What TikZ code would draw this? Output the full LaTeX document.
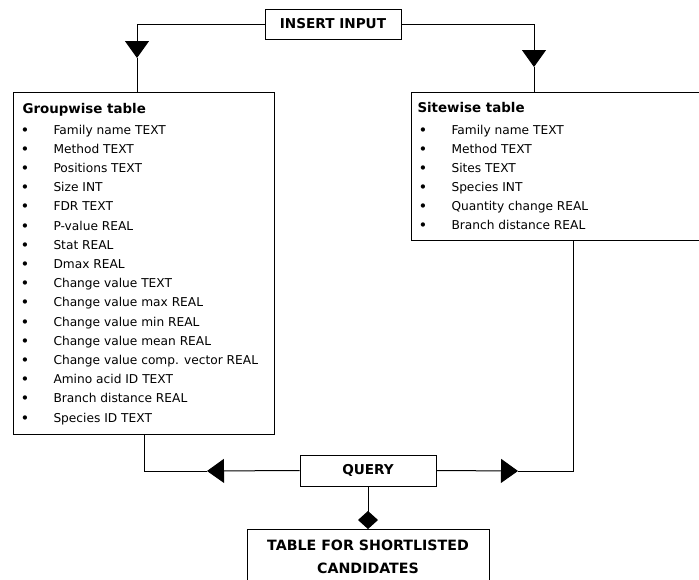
\documentclass[tikz,border=0pt]{standalone}
\usepackage{fontspec}
\setmainfont{DejaVu Sans}
\usetikzlibrary{arrows.meta}
\begin{document}
\begin{tikzpicture}[x=1pt,y=-1pt,
  line width=1pt,
  box/.style={draw, rectangle, inner sep=0pt, anchor=north west},
  title/.style={anchor=base west, inner sep=0pt, font=\bfseries\fontsize{13.4}{15}\selectfont},
  item/.style={anchor=base west, inner sep=0pt, font=\fontsize{12.2}{14}\selectfont},
  bul/.style={anchor=base, inner sep=0pt, font=\bfseries\fontsize{12.2}{14}\selectfont},
  caps/.style={draw, rectangle, inner sep=0pt, font=\bfseries\fontsize{13.6}{15}\selectfont, align=center},
  capline/.style={anchor=base, inner sep=0pt, font=\bfseries\fontsize{14.2}{16}\selectfont},
  tri/.style={-{Triangle[width=24pt,length=17pt]}},
  dia/.style={-{Diamond[width=20pt,length=18pt]}}]
\useasboundingbox (0,0) rectangle (699,579);
\clip (0,0) rectangle (699,579);

% boxes
\node[caps, minimum width=136pt, minimum height=30pt] (ins) at (333,24) {INSERT INPUT};
\node[box, minimum width=261pt, minimum height=342pt] (gw) at (13,92) {};
\node[box, minimum width=300pt, minimum height=148pt] (sw) at (411,92) {};
\node[caps, minimum width=136pt, minimum height=31pt] (qry) at (368,470.5) {QUERY};
\node[box, minimum width=242pt, minimum height=80pt] (tab) at (247,529) {};
\node[capline] (tab1) at (368,550) {TABLE FOR SHORTLISTED};
\node[capline] (tab2) at (368,573) {CANDIDATES};

% groupwise table contents
\node[title] (gwt) at (22,113) {Groupwise table};
\foreach \t [count=\i from 0] in {Family name TEXT, Method TEXT, Positions TEXT, Size INT, FDR TEXT,
  P-value REAL, Stat REAL, Dmax REAL, Change value TEXT, Change value max REAL,
  Change value min REAL, Change value mean REAL, Change value comp. vector REAL,
  Amino acid ID TEXT, Branch distance REAL, Species ID TEXT}{
  \node[bul] (gwb\i) at (25,134+19.2*\i) {•};
  \node[item] (gwi\i) at (53,134+19.2*\i) {\t};
}

% sitewise table contents
\node[title] (swt) at (417,112) {Sitewise table};
\foreach \t [count=\i from 0] in {Family name TEXT, Method TEXT, Sites TEXT, Species INT,
  Quantity change REAL, Branch distance REAL}{
  \node[bul] (swb\i) at (423,134+19.1*\i) {•};
  \node[item] (swi\i) at (451,134+19.1*\i) {\t};
}

% connection points
\coordinate (gwin) at (137,92);
\coordinate (gwtip) at (137,58);
\coordinate (swin) at (534,92);
\coordinate (swtip) at (534,67);
\coordinate (gwout) at (144,434);
\coordinate (ltip) at (207,471);
\coordinate (swout) at (573,240);
\coordinate (rtip) at (518,471);
\coordinate (dtip) at (368,529);

% connectors
\draw[tri] (ins.west) -| (gwtip);
\draw (gwtip) -- (gwin);
\draw[tri] (ins.east) -| (swtip);
\draw (swtip) -- (swin);
\draw[tri] (qry.west) -- (ltip);
\draw (ltip) -| (gwout);
\draw[tri] (qry.east) -- (rtip);
\draw (rtip) -| (swout);
\draw[dia] (qry.south) -- (dtip);
\end{tikzpicture}
\end{document}
